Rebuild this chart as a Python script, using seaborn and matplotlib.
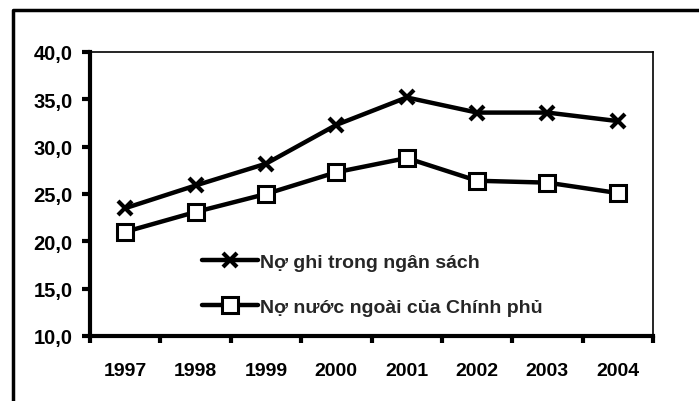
import matplotlib
matplotlib.use("Agg")
import matplotlib.pyplot as plt
import seaborn as sns
import pandas as pd
from matplotlib.lines import Line2D
from matplotlib.ticker import FixedLocator, NullFormatter, FixedFormatter

years = [1997, 1998, 1999, 2000, 2001, 2002, 2003, 2004]
no_ngan_sach = [23.5, 25.9, 28.2, 32.3, 35.2, 33.6, 33.6, 32.7]
no_nuoc_ngoai = [21.0, 23.1, 25.0, 27.3, 28.8, 26.4, 26.2, 25.1]
series_names = ["Nợ ghi trong ngân sách", "Nợ nước ngoài của Chính phủ"]
y_ticks = [10, 15, 20, 25, 30, 35, 40]
y_labels = ["10,0", "15,0", "20,0", "25,0", "30,0", "35,0", "40,0"]

df1 = pd.DataFrame({"year": years, "value": no_ngan_sach})
df2 = pd.DataFrame({"year": years, "value": no_nuoc_ngoai})

sns.set_theme(style="white")
plt.rcParams["font.family"] = ["Liberation Sans", "DejaVu Sans"]
plt.rcParams["font.weight"] = "bold"

fig = plt.figure(figsize=(6.99, 4.02), dpi=100)
W, H = 699, 402
ax = fig.add_axes([90 / W, 1 - 337 / H, (653 - 90) / W, (337 - 53) / H])

sns.lineplot(data=df1, x="year", y="value", color="black", marker="x",
             markersize=10, markeredgewidth=3, markeredgecolor="black",
             linewidth=3.2, ax=ax)
sns.lineplot(data=df2, x="year", y="value", color="black", marker="s",
             markersize=11, markerfacecolor="white", markeredgecolor="black",
             markeredgewidth=2.2, linewidth=3.2, ax=ax)

ax.set_xlim(years[0] - 0.5, years[-1] + 0.5)
ax.set_ylim(10, 40)
ax.set_xlabel("")
ax.set_ylabel("")

ax.xaxis.set_major_locator(FixedLocator([y - 0.5 for y in years] + [years[-1] + 0.5]))
ax.xaxis.set_major_formatter(NullFormatter())
ax.xaxis.set_minor_locator(FixedLocator(years))
ax.xaxis.set_minor_formatter(FixedFormatter([str(y) for y in years]))
ax.tick_params(axis="x", which="major", direction="out", length=5, width=3, color="black", bottom=True)
ax.tick_params(axis="x", which="minor", length=0, pad=19, labelsize=14, labelcolor="black")

ax.set_yticks(y_ticks)
ax.set_yticklabels(y_labels)
ax.tick_params(axis="y", direction="out", length=6, width=3, color="black", left=True,
               labelsize=14.5, labelcolor="black", pad=6.5)
for lab in ax.get_xticklabels(minor=True) + ax.get_yticklabels():
    lab.set_fontweight("bold")

for side in ["left", "bottom"]:
    ax.spines[side].set_linewidth(3)
    ax.spines[side].set_color("black")
for side in ["top", "right"]:
    ax.spines[side].set_linewidth(1.2)
    ax.spines[side].set_color("black")
ax.grid(False)

handles = [
    Line2D([], [], color="black", lw=3.2, marker="x", markersize=10, markeredgewidth=3),
    Line2D([], [], color="black", lw=3.2, marker="s", markersize=11, markerfacecolor="white",
           markeredgecolor="black", markeredgewidth=2.2),
]
leg = ax.legend(handles, series_names, loc="center left", bbox_to_anchor=(0.199, 0.18),
                frameon=False, handlelength=2.9, handletextpad=0.1, labelspacing=1.4,
                borderpad=0, borderaxespad=0,
                prop={"family": ["Liberation Sans", "DejaVu Sans"], "weight": "bold", "size": 14})

# outer frame
fig.add_artist(Line2D([13 / W, 13 / W, 1.0], [0.0, 1 - 11 / H, 1 - 11 / H],
                      transform=fig.transFigure, color="black", lw=2.5))

fig.savefig("out.png", dpi=100, facecolor="white")
